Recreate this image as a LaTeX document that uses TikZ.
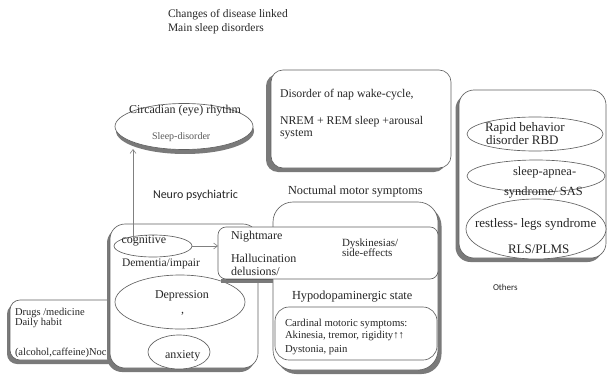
\documentclass[tikz,border=0pt]{standalone}
\usepackage{fontspec}
\setmainfont{Liberation Serif}
\newfontfamily\calib{Carlito}
\usetikzlibrary{shapes.geometric,arrows.meta,calc}
\begin{document}
\begin{tikzpicture}[x=1pt,y=-1pt,
  every node/.style={inner sep=0pt, outer sep=0pt},
  ln/.style={draw=black!62, line width=0.65pt},
  rbox/.style={ln, fill=white, rounded corners=#1},
  ell/.style={ln, fill=white, ellipse},
  shc/.style={fill=black!52, rounded corners=#1},
  t/.style={anchor=base west, text=black!85, font=\fontsize{#1}{#1}\selectfont},
  tc/.style={anchor=base west, text=black!85, font=\calib\fontsize{#1}{#1}\selectfont},
  arr/.style={draw=black!50, line width=0.6pt, -{Straight Barb[length=4pt,width=6pt]}},
]
\useasboundingbox (0,0) rectangle (609,377);

% title
\node[t=11.5] (ti1) at (168,17.5) {Changes of disease linked};
\node[t=11.5] (ti2) at (168,31.5) {Main sleep disorders};

% circadian ellipse
\fill[black!52] (185,131) ellipse[x radius=69pt, y radius=23pt];
\node[ell, minimum width=138pt, minimum height=46pt] (circ) at (184,126.5) {};
\node[t=12] (circ1) at (129,113.3) {Circadian (eye) rhythm};
\node[t=10, text=black!65] (circ2) at (152,139) {Sleep-disorder};

% disorder box
\fill[shc=12pt] (266,74) rectangle (446,172);
\node[rbox=12pt, minimum width=180pt, minimum height=98pt] (dis) at (361,119) {};
\node[t=11.8] (dis1) at (280,97.3) {Disorder of nap wake-cycle,};
\node[t=11.8] (dis2) at (280,124) {NREM + REM sleep +arousal};
\node[t=11.8] (dis3) at (280,136) {system};

% others box
\fill[shc=15pt] (455.5,94) rectangle (602.5,262);
\node[rbox=15pt, minimum width=147pt, minimum height=168pt] (oth) at (532.5,174) {};
\node[ell, minimum width=136pt, minimum height=34pt] (rbd) at (535,134) {};
\node[t=13] (rbd1) at (485,131.7) {Rapid behavior};
\node[t=13] (rbd2) at (486,144) {disorder RBD};
\node[ell, minimum width=138pt, minimum height=32pt] (sas) at (536,176) {};
\node[t=12.5] (sas1) at (513,175) {sleep-apnea-};
\node[t=12.5] (sas2) at (504,195) {syndrome/ SAS};
\node[ell, minimum width=140pt, minimum height=60pt] (rls) at (536,229) {};
\node[t=13] (rls1) at (475,227.3) {restless- legs syndrome};
\node[t=13] (rls2) at (508,253.3) {RLS/PLMS};
\node[tc=9] (othl) at (493,290) {Others};

% neuro psychiatric label
\node[tc=12] (neuro) at (153,198.3) {Neuro psychiatric};

% nocturnal box
\node[t=12.3] (noctl) at (288,194) {Noctumal motor symptoms};
\fill[shc=20pt] (276.5,206) rectangle (441.5,374);
\node[rbox=20pt, minimum width=165pt, minimum height=168pt] (noct) at (355.5,286) {};
\node[t=12.3] (hypo) at (292,299.3) {Hypodopaminergic state};
\node[rbox=14pt, minimum width=162pt, minimum height=53pt] (card) at (356,333.5) {};
\node[t=10.7] (card1) at (285,326) {Cardinal motoric symptoms:};
\node[t=10.7] (card2) at (285,338.3) {Akinesia, tremor, rigidity↑↑};
\node[t=10.7] (card3) at (285,352.7) {Dystonia, pain};

% drugs box
\fill[shc=10pt] (7,304) rectangle (147,364);
\node[rbox=10pt, minimum width=140pt, minimum height=60pt] (drug) at (80,330) {};
\node[t=10.5] (drug1) at (15,315) {Drugs /medicine};
\node[t=10.5] (drug2) at (15,325) {Daily habit};
\node[t=10.5] (drug3) at (15,355) {(alcohol,caffeine)Noc};

% dementia box
\fill[shc=15pt] (107,228) rectangle (255,372);
\node[rbox=15pt, minimum width=148pt, minimum height=144pt] (dem) at (184,296) {};
\node[ell, minimum width=78pt, minimum height=22pt] (cog) at (153,246) {};
\node[t=12] (cog1) at (121.5,243.3) {cognitive};
\node[t=11.5] (dem1) at (122,266.7) {Dementia/impair};
\node[ell, minimum width=130pt, minimum height=54pt] (dep) at (180,302) {};
\node[t=12] (dep1) at (155,298) {Depression};
\node[t=12] (dep2) at (181,313) {,};
\node[ell, minimum width=62pt, minimum height=34pt] (anx) at (179,352) {};
\node[t=12] (anx1) at (165,358) {anxiety};

% nightmare box
\node[rbox=8pt, minimum width=220pt, minimum height=52pt] (nm) at (328,253) {};
\fill[black!52] ($(nm.south west)+(3,0)$) rectangle ($(nm.south -| noct.west)+(0,4)$);
\draw[ln] ($(nm.south west)+(8,0)$) -- (nm.south -| noct.west);
\node[t=12] (nm1) at (231,239) {Nightmare};
\node[t=12] (nm2) at (231,262.7) {Hallucination};
\node[t=12] (nm3) at (231,275) {delusions/};
\node[t=11] (dy1) at (342,246) {Dyskinesias/};
\node[t=11] (dy2) at (342,256.7) {side-effects};

% arrows
\coordinate (vstart) at (133,241);
\coordinate (vend) at (133,149);
\draw[arr] (vstart) -- (vend);
\draw[arr] (cog.east) -- (cog.east -| nm.west);
\end{tikzpicture}
\end{document}
